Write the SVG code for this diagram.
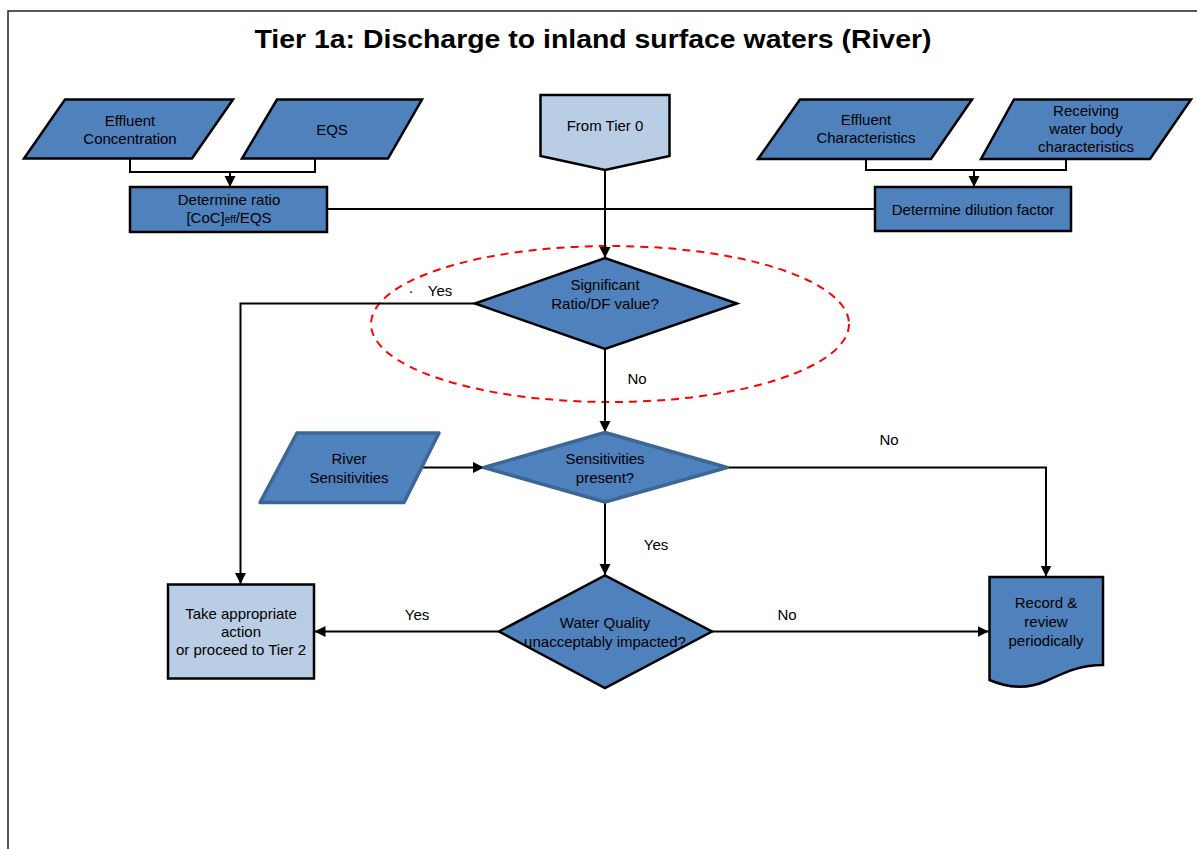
<svg xmlns="http://www.w3.org/2000/svg" width="1197" height="849" viewBox="0 0 1197 849">
<style>
.n{fill:#4F81BD;stroke:#000;stroke-width:2.5;stroke-linejoin:miter}
.l{fill:#B9CDE5;stroke:#000;stroke-width:2.5}
.s{fill:#4F81BD;stroke:#3C6696;stroke-width:3.5;stroke-linejoin:round}
.t{font-family:"Liberation Sans",Arial,sans-serif;font-size:15px;fill:#000;text-anchor:middle}
.c{fill:none;stroke:#000;stroke-width:2}
.a{fill:none;stroke:#000;stroke-width:2;marker-end:url(#ah)}
</style>
<defs>
<marker id="ah" markerUnits="userSpaceOnUse" markerWidth="12" markerHeight="12" refX="11" refY="6" orient="auto">
<path d="M0,0.5 L11,6 L0,11.5 Z" fill="#000"/>
</marker>
</defs>
<rect x="0" y="0" width="1197" height="849" fill="#fff"/>
<rect x="8" y="11" width="1200" height="850" fill="none" stroke="#222" stroke-width="1.5"/>
<text x="593" y="48" font-family="'Liberation Sans',Arial,sans-serif" font-size="26" font-weight="bold" text-anchor="middle" textLength="677" lengthAdjust="spacingAndGlyphs">Tier 1a: Discharge to inland surface waters (River)</text>

<ellipse cx="610" cy="324" rx="239" ry="78" fill="none" stroke="#FF0000" stroke-width="2" stroke-dasharray="8,6"/>

<g id="connectors">
<path class="c" d="M130,158 V172 H315 V158"/>
<path class="a" d="M230,172 V187"/>
<path class="c" d="M866,159 V170 H1066 V159"/>
<path class="a" d="M974,170 V187"/>
<path class="c" d="M327,209 H875"/>
<path class="a" d="M605,170 V258"/>
<path class="a" d="M475,303.5 H240.5 V584"/>
<path class="a" d="M605,349 V432"/>
<path class="a" d="M420,467.5 H484"/>
<path class="a" d="M727,467.5 H1046 V576.5"/>
<path class="a" d="M605,502 V575"/>
<path class="a" d="M499,631.5 H314.5"/>
<path class="a" d="M712,631.5 H988.5"/>
<text class="t" x="411" y="293" font-size="10">.</text>
<text class="t" x="440" y="296">Yes</text>
<text class="t" x="637" y="384">No</text>
<text class="t" x="889" y="445">No</text>
<text class="t" x="656" y="550">Yes</text>
<text class="t" x="417" y="620">Yes</text>
<text class="t" x="787" y="620">No</text>
</g>

<g id="effluent-concentration">
<polygon class="n" points="65,99.5 233,99.5 192,158.5 24,158.5"/>
<text class="t" x="130" y="126">Effluent</text>
<text class="t" x="130" y="144">Concentration</text>
</g>
<g id="eqs">
<polygon class="n" points="277,99.5 422,99.5 388,158.5 242,158.5"/>
<text class="t" x="332" y="135">EQS</text>
</g>
<g id="determine-ratio">
<rect class="n" x="130" y="187" width="197" height="45"/>
<text class="t" x="229" y="205">Determine ratio</text>
<text class="t" x="229" y="223">[CoC]<tspan font-size="10">eff</tspan>/EQS</text>
</g>
<g id="from-tier-0">
<polygon class="l" points="540.5,95 669.5,95 669.5,156 605,170 540.5,156"/>
<text class="t" x="605" y="131">From Tier 0</text>
</g>
<g id="effluent-characteristics">
<polygon class="n" points="800,99.5 972,99.5 931,159 758,159"/>
<text class="t" x="866" y="125">Effluent</text>
<text class="t" x="866" y="143">Characteristics</text>
</g>
<g id="receiving-water">
<polygon class="n" points="1014,99.5 1191,99.5 1150,159 981,159"/>
<text class="t" x="1086" y="116">Receiving</text>
<text class="t" x="1086" y="134">water body</text>
<text class="t" x="1086" y="152">characteristics</text>
</g>
<g id="determine-dilution">
<rect class="n" x="875" y="187" width="196" height="44"/>
<text class="t" x="973" y="215">Determine dilution factor</text>
</g>
<g id="significant-ratio">
<polygon class="n" points="475,303.5 605,258 737,303.5 605,349"/>
<text class="t" x="605" y="290">Significant</text>
<text class="t" x="605" y="309">Ratio/DF value?</text>
</g>
<g id="river-sensitivities">
<polygon class="s" points="297,433 439,433 404,502.5 260,502.5"/>
<text class="t" x="349" y="464">River</text>
<text class="t" x="349" y="483">Sensitivities</text>
</g>
<g id="sensitivities-present">
<polygon class="s" points="484,467.5 605,432.5 727,467.5 605,502"/>
<text class="t" x="605" y="464">Sensitivities</text>
<text class="t" x="605" y="483">present?</text>
</g>
<g id="water-quality">
<polygon class="n" points="499,631.5 605,575.5 712,631.5 605,688"/>
<text class="t" x="605" y="628">Water Quality</text>
<text class="t" x="605" y="647">unacceptably impacted?</text>
</g>
<g id="take-action">
<rect class="l" x="168" y="584.5" width="146" height="94"/>
<text class="t" x="241" y="619">Take appropriate</text>
<text class="t" x="241" y="637">action</text>
<text class="t" x="241" y="655">or proceed to Tier 2</text>
</g>
<g id="record-review">
<path class="n" d="M989.5,577 H1103 V665 C1080,665 1066,672 1046,681 C1028,689 1008,688 989.5,680 Z"/>
<text class="t" x="1046" y="608">Record &amp;</text>
<text class="t" x="1046" y="627">review</text>
<text class="t" x="1046" y="646">periodically</text>
</g>
</svg>
